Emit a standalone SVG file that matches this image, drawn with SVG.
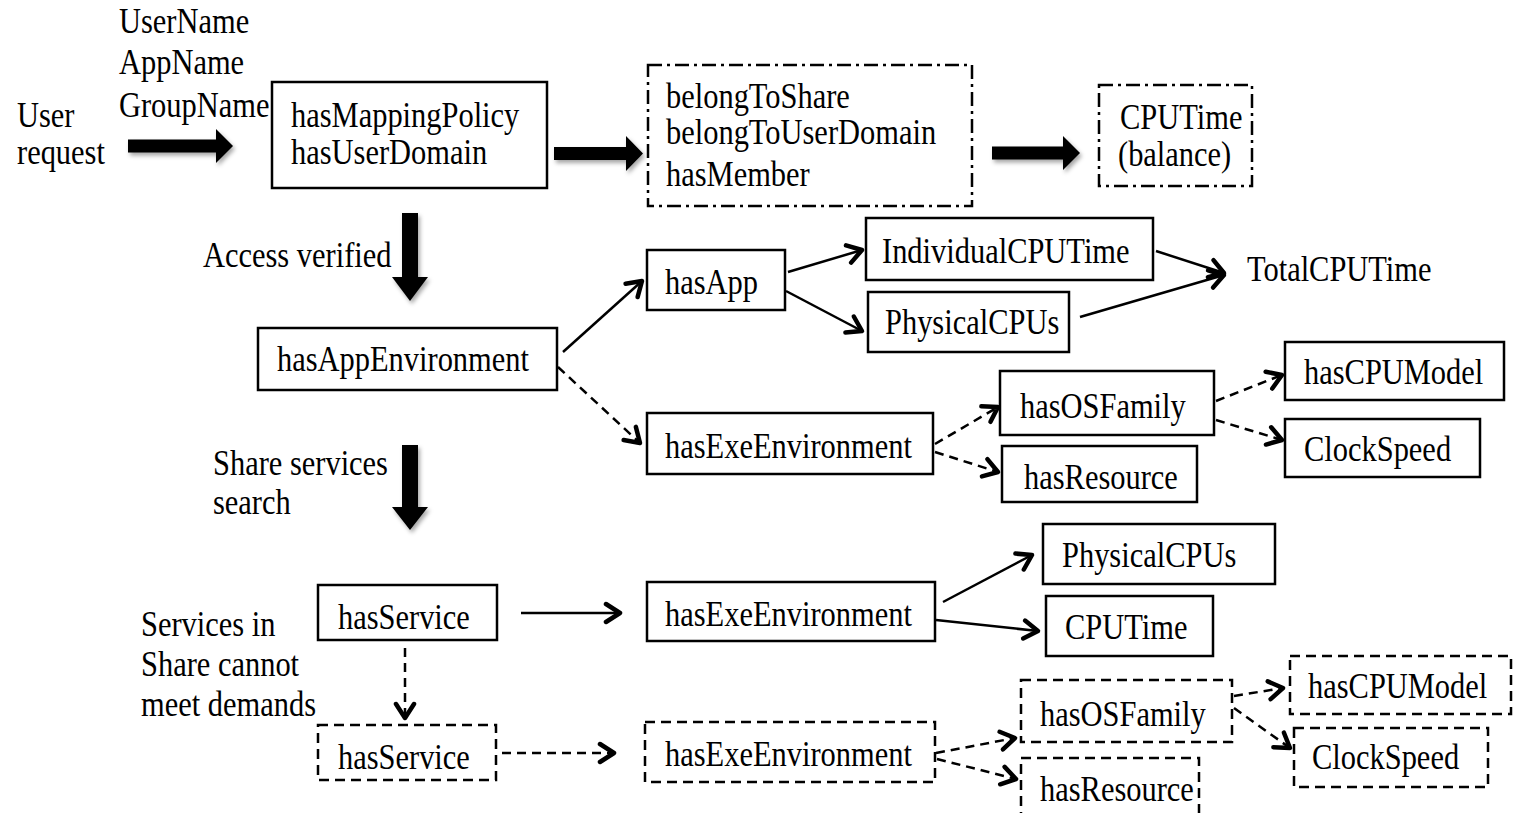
<svg xmlns="http://www.w3.org/2000/svg" width="1513" height="813" viewBox="0 0 1513 813">
  <style>
    text { font-family: "Liberation Serif", "Times New Roman", serif; font-size: 35px; fill: #000;
           transform-box: fill-box; transform-origin: 0 0; transform: scaleX(0.87); }
    .box { fill: #fff; stroke: #000; stroke-width: 2.5; }
    .dash { stroke-dasharray: 10 6; }
    .dashdot { stroke-dasharray: 14 5 3 5; }
    .edge { fill: none; stroke: #000; stroke-width: 2.5; marker-end: url(#open); }
    .edge.dashed { stroke-dasharray: 9 6; }
    .block { fill: #000; filter: url(#shade); }
  </style>
  <defs>
    <marker id="open" markerUnits="userSpaceOnUse" markerWidth="24" markerHeight="24" refX="18" refY="12" orient="auto">
      <path d="M4,3 L18,12 L4,21" fill="none" stroke="#000" stroke-width="4.5" stroke-linecap="round" stroke-linejoin="round"/>
    </marker>
    <filter id="shade" x="-20%" y="-20%" width="140%" height="160%">
      <feDropShadow dx="2" dy="3" stdDeviation="2" flood-color="#000" flood-opacity="0.35"/>
    </filter>
  </defs>

  <!-- free labels -->
  <g id="labels">
    <text x="119" y="33">UserName</text>
    <text x="119" y="74">AppName</text>
    <text x="119" y="117">GroupName</text>
    <text x="17" y="127">User</text>
    <text x="17" y="164">request</text>
    <text x="203" y="267">Access verified</text>
    <text x="1247" y="281">TotalCPUTime</text>
    <text x="213" y="475">Share services</text>
    <text x="213" y="514">search</text>
    <text x="141" y="636">Services in</text>
    <text x="141" y="676">Share cannot</text>
    <text x="141" y="716">meet demands</text>
  </g>

  <!-- wide block arrows -->
  <g id="block-arrows">
    <polygon class="block" points="128,139.5 216,139.5 216,129 233,146 216,163 216,152.5 128,152.5"/>
    <polygon class="block" points="554,147 626,147 626,136 643,153.5 626,171 626,160 554,160"/>
    <polygon class="block" points="992,146.5 1063,146.5 1063,136 1080,153 1063,170 1063,159.5 992,159.5"/>
    <polygon class="block" points="402,213 418,213 418,277 428,277 410,301 392,277 402,277"/>
    <polygon class="block" points="402,445 418,445 418,507 428,507 410,530 392,507 402,507"/>
  </g>

  <!-- connectors -->
  <g id="connectors">
    <path class="edge" d="M563,352 L642,281"/>
    <path class="edge dashed" d="M558,367 L640,443"/>
    <path class="edge" d="M788,272 L862,250"/>
    <path class="edge" d="M786,291 L862,331"/>
    <path class="edge" d="M1156,251 L1224,273"/>
    <path class="edge" d="M1080,317 L1224,275"/>
    <path class="edge dashed" d="M935,444 L998,407"/>
    <path class="edge dashed" d="M935,452 L998,472"/>
    <path class="edge dashed" d="M1216,401 L1282,375"/>
    <path class="edge dashed" d="M1216,420 L1282,440"/>
    <path class="edge" d="M521,613 L620,613"/>
    <path class="edge" d="M943,602 L1032,555"/>
    <path class="edge" d="M936,620 L1038,631"/>
    <path class="edge dashed" d="M405,648 L405,718"/>
    <path class="edge dashed" d="M502,753 L614,753"/>
    <path class="edge dashed" d="M936,753 L1015,738"/>
    <path class="edge dashed" d="M937,759 L1016,779"/>
    <path class="edge dashed" d="M1234,696 L1283,688"/>
    <path class="edge dashed" d="M1234,708 L1290,748"/>
  </g>

  <g id="mapping">
    <rect class="box" x="272" y="82" width="275" height="106"/>
    <text x="291" y="127">hasMappingPolicy</text>
    <text x="291" y="164">hasUserDomain</text>
  </g>
  <g id="share">
    <rect class="box dashdot" x="648" y="65" width="324" height="141"/>
    <text x="666" y="108">belongToShare</text>
    <text x="666" y="144">belongToUserDomain</text>
    <text x="666" y="186">hasMember</text>
  </g>
  <g id="balance">
    <rect class="box dashdot" x="1099" y="85" width="153" height="101"/>
    <text x="1120" y="129">CPUTime</text>
    <text x="1118" y="166">(balance)</text>
  </g>
  <g id="hasApp">
    <rect class="box" x="647" y="250" width="138" height="60"/>
    <text x="665" y="294">hasApp</text>
  </g>
  <g id="individualCPUTime">
    <rect class="box" x="866" y="218" width="287" height="62"/>
    <text x="882" y="263">IndividualCPUTime</text>
  </g>
  <g id="physicalCPUs-app">
    <rect class="box" x="868" y="292" width="201" height="60"/>
    <text x="885" y="334">PhysicalCPUs</text>
  </g>
  <g id="hasAppEnvironment">
    <rect class="box" x="258" y="328" width="299" height="62"/>
    <text x="277" y="371">hasAppEnvironment</text>
  </g>
  <g id="hasExeEnvironment-app">
    <rect class="box" x="647" y="413" width="286" height="61"/>
    <text x="665" y="458">hasExeEnvironment</text>
  </g>
  <g id="hasOSFamily-app">
    <rect class="box" x="1000" y="371" width="214" height="64"/>
    <text x="1020" y="418">hasOSFamily</text>
  </g>
  <g id="hasResource-app">
    <rect class="box" x="1002" y="446" width="195" height="56"/>
    <text x="1024" y="489">hasResource</text>
  </g>
  <g id="hasCPUModel-app">
    <rect class="box" x="1285" y="342" width="219" height="58"/>
    <text x="1304" y="384">hasCPUModel</text>
  </g>
  <g id="clockSpeed-app">
    <rect class="box" x="1285" y="419" width="195" height="58"/>
    <text x="1304" y="461">ClockSpeed</text>
  </g>

  <g id="hasService">
    <rect class="box" x="318" y="585" width="179" height="55"/>
    <text x="338" y="629">hasService</text>
  </g>
  <g id="hasExeEnvironment-svc">
    <rect class="box" x="647" y="582" width="288" height="59"/>
    <text x="665" y="626">hasExeEnvironment</text>
  </g>
  <g id="physicalCPUs-svc">
    <rect class="box" x="1043" y="524" width="232" height="60"/>
    <text x="1062" y="567">PhysicalCPUs</text>
  </g>
  <g id="cpuTime-svc">
    <rect class="box" x="1046" y="596" width="167" height="60"/>
    <text x="1065" y="639">CPUTime</text>
  </g>

  <g id="hasService-ext">
    <rect class="box dash" x="318" y="725" width="178" height="55"/>
    <text x="338" y="769">hasService</text>
  </g>
  <g id="hasExeEnvironment-ext">
    <rect class="box dash" x="645" y="722" width="290" height="60"/>
    <text x="665" y="766">hasExeEnvironment</text>
  </g>
  <g id="hasOSFamily-ext">
    <rect class="box dash" x="1021" y="680" width="211" height="62"/>
    <text x="1040" y="726">hasOSFamily</text>
  </g>
  <g id="hasResource-ext">
    <rect class="box dash" x="1021" y="758" width="178" height="62"/>
    <text x="1040" y="801">hasResource</text>
  </g>
  <g id="hasCPUModel-ext">
    <rect class="box dash" x="1290" y="656" width="221" height="58"/>
    <text x="1308" y="698">hasCPUModel</text>
  </g>
  <g id="clockSpeed-ext">
    <rect class="box dash" x="1294" y="728" width="194" height="59"/>
    <text x="1312" y="769">ClockSpeed</text>
  </g>
</svg>
